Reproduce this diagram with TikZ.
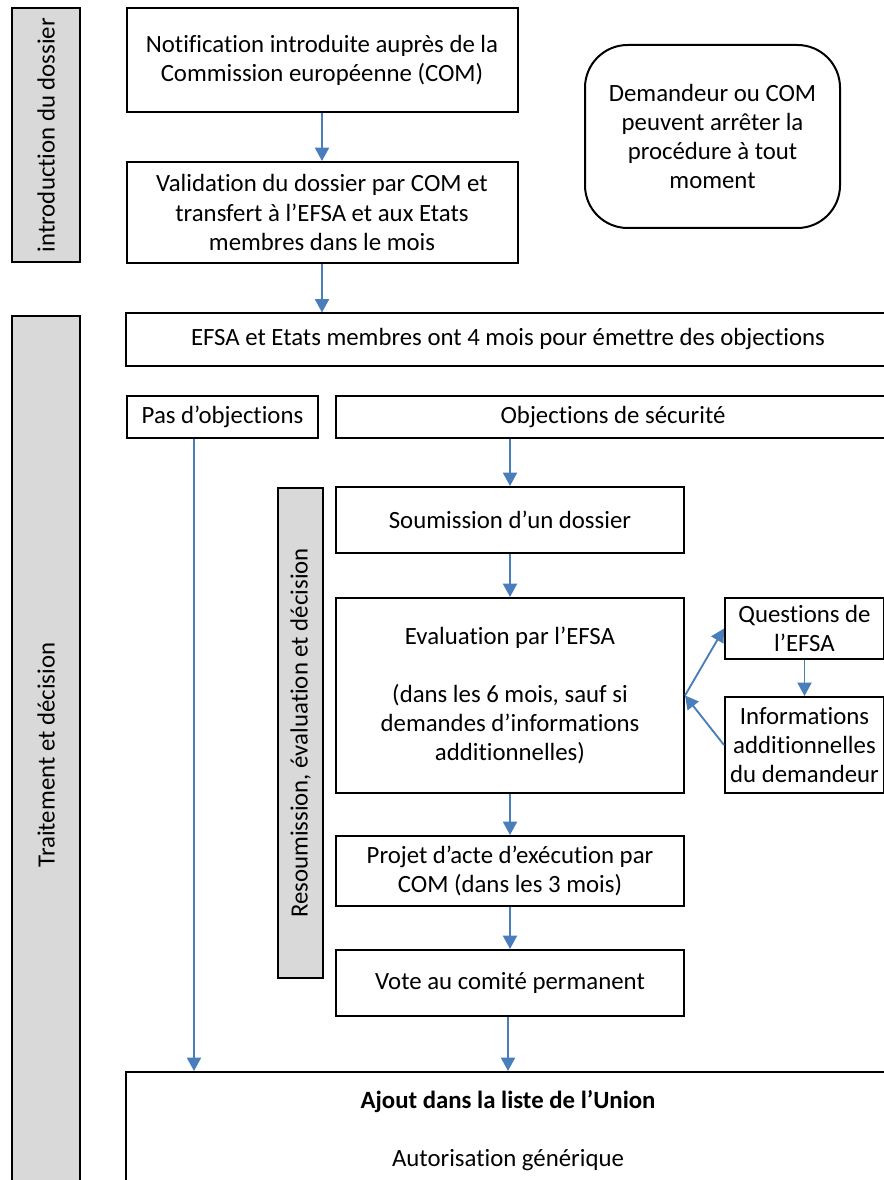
\documentclass[tikz,border=0pt]{standalone}
\usepackage{fontspec}
\setmainfont{Carlito}[Ligatures={NoCommon}]
\usetikzlibrary{arrows.meta}
\definecolor{flowblue}{RGB}{74,126,187}
\definecolor{bandgray}{RGB}{217,217,217}
\newcommand{\px}{0.75pt}
\tikzset{
  box/.style={draw, line width=1.5pt, align=center, inner sep=0pt},
  band/.style={box, fill=bandgray, rotate=90},
  flow/.style={draw=flowblue, line width=1.4pt, -{Triangle[length=10pt, width=10.5pt]}}
}
\begin{document}
\begin{tikzpicture}[x=\px, y=-\px, font=\fontsize{18.6}{21.8}\selectfont]
  \useasboundingbox (0,0) rectangle (884,1180);
  \clip (0,0) rectangle (884,1180);

  % Introduction du dossier
  \node[band, minimum width=254*\px, minimum height=68*\px] (intro) at (46,135) {introduction du dossier};
  \node[box, minimum width=391*\px, minimum height=104*\px] (notif) at (322,60)
    {Notification introduite auprès de la\\Commission européenne (COM)};
  \node[box, minimum width=391*\px, minimum height=101*\px] (valid) at (322,212.5)
    {Validation du dossier par COM et\\transfert à l’EFSA et aux Etats\\membres dans le mois};
  \node[box, rounded corners=32pt, minimum width=255*\px, minimum height=183*\px] (stop) at (712.5,136.5)
    {Demandeur ou COM\\peuvent arrêter la\\procédure à tout\\moment};

  % Traitement et decision
  \node[band, minimum width=878*\px, minimum height=68*\px] (trait) at (46,755) {Traitement et décision};
  \node[box, minimum width=764*\px, minimum height=52*\px] (efsa) at (508,339.5)
    {EFSA et Etats membres ont 4 mois pour émettre des objections};
  \node[box, minimum width=191*\px, minimum height=42*\px] (pasobj) at (222.5,417) {Pas d’objections};
  \node[box, minimum width=554*\px, minimum height=42*\px] (objsec) at (613,417) {Objections de sécurité};

  % Resoumission, evaluation et decision
  \node[band, minimum width=490*\px, minimum height=45*\px] (resoum) at (300.5,733)
    {Resoumission, évaluation et décision};
  \node[box, minimum width=348*\px, minimum height=66*\px] (soum) at (510,520) {Soumission d’un dossier};
  \node[box, minimum width=348*\px, minimum height=195*\px] (eval) at (510,695.5)
    {Evaluation par l’EFSA\\[21.8pt](dans les 6 mois, sauf si\\demandes d’informations\\additionnelles)};
  \node[box, minimum width=159*\px, minimum height=61*\px] (quest) at (804.5,628.5) {Questions de\\l’EFSA};
  \node[box, minimum width=159*\px, minimum height=96*\px] (info) at (804.5,745)
    {Informations\\additionnelles\\du demandeur};
  \node[box, minimum width=348*\px, minimum height=70*\px] (projet) at (510,871)
    {Projet d’acte d’exécution par\\COM (dans les 3 mois)};
  \node[box, minimum width=348*\px, minimum height=66*\px] (vote) at (510,983) {Vote au comité permanent};
  \node[box, minimum width=764*\px, minimum height=118*\px] (ajout) at (508,1131)
    {\textbf{Ajout dans la liste de l’Union}\\[21.7pt]Autorisation générique};

  % Connectors
  \coordinate (pasx) at (194,0);
  \coordinate (votex) at (508,0);
  \draw[flow] (notif) -- (valid);
  \draw[flow] (valid.south) -- (valid.south |- efsa.north);
  \draw[flow] (pasobj.south -| pasx) -- (ajout.north -| pasx);
  \draw[flow] (objsec.south -| soum.north) -- (soum.north);
  \draw[flow] (soum) -- (eval);
  \draw[flow] (eval) -- (projet);
  \draw[flow] (projet) -- (vote);
  \draw[flow] (vote.south -| votex) -- (ajout.north -| votex);
  \draw[flow] (eval.east) -- (quest.west);
  \draw[flow] (quest) -- (info);
  \draw[flow] (info.west) -- (eval.east);
\end{tikzpicture}
\end{document}
